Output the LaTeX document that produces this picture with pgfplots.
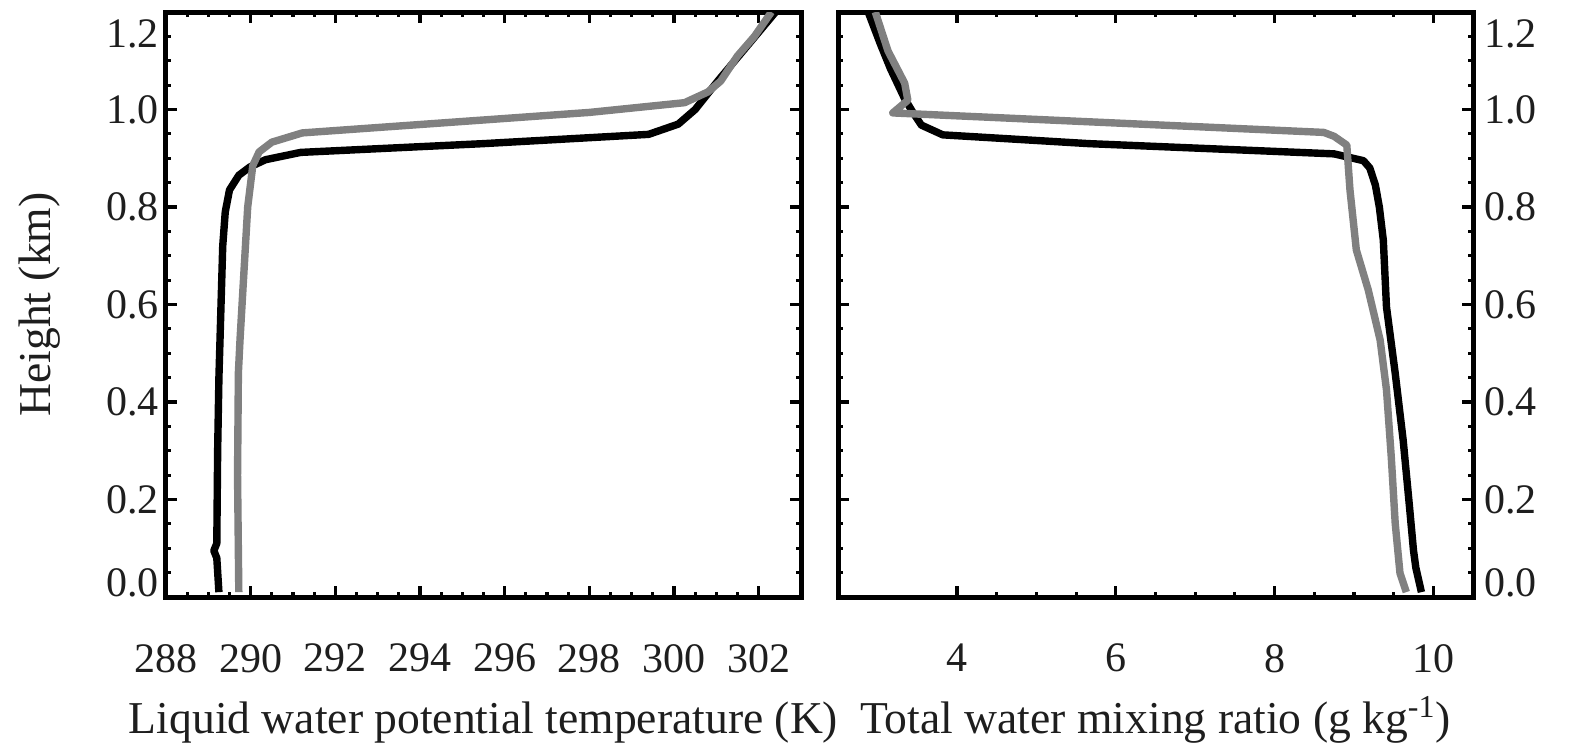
\documentclass[border=0pt]{standalone}
\usepackage{fontspec}
\setmainfont{Liberation Serif}
\usepackage{pgfplots}
\pgfplotsset{compat=1.18}
\definecolor{lgray}{RGB}{128,128,128}
\definecolor{txt}{RGB}{30,30,30}
\newcommand{\lup}[2]{\raisebox{#1}[\height][\depth]{#2}}
\pgfplotsset{
 myax/.style={
  scale only axis, width=317.5pt, height=292.5pt,
  ymin=0, ymax=1.2,
  ytick={0,0.2,0.4,0.6,0.8,1.0,1.2},
  yticklabels={\lup{7pt}{0.0},0.2,0.4,0.6,0.8,1.0,\lup{-11pt}{1.2}},
  minor x tick num=3, minor y tick num=3,
  tick align=inside,
  xtick pos=both, ytick pos=both,
  axis line style={line width=2.5pt},
  every tick/.style={black, line width=1.6pt},
  major tick length=5.5pt, minor tick length=2.7pt,
  tick label style={font=\fontsize{21pt}{25pt}\selectfont, text=txt},
  label style={font=\fontsize{22.8pt}{27pt}\selectfont, text=txt, inner sep=0pt},
  xticklabel style={yshift=-20pt},
  /pgf/number format/assume math mode=true,
  xlabel style={at={(axis description cs:0.5,-0.2325)}, anchor=base},
 },
 blk/.style={black, line width=3.7pt, line join=round, no markers},
 gry/.style={lgray, line width=3.7pt, line join=round, no markers},
}
\begin{document}
\begin{tikzpicture}
\useasboundingbox (-83pt,-74.5pt) rectangle (706pt,298.5pt);
\begin{axis}[myax, at={(0pt,0pt)}, anchor=south west,
  xmin=288, xmax=303, xtick={288,290,...,302},
  xlabel={Liquid water potential temperature (K)},
  ylabel={Height (km)},
  ylabel style={at={(axis description cs:-0.1984,0.5)}, anchor=center},
]
\addplot[blk] coordinates {
(289.25,0.01) (289.2,0.08) (289.13,0.095) (289.2,0.11) (289.22,0.3)
(289.25,0.45) (289.3,0.6) (289.34,0.72) (289.4,0.79) (289.5,0.835)
(289.72,0.865) (289.98,0.882) (290.35,0.897) (291.18,0.912) (295.5,0.93)
(299.4,0.949) (300.1,0.97) (300.5,1.0) (301.05,1.06) (302.4,1.2)
};
\addplot[gry] coordinates {
(289.72,0.01) (289.69,0.25) (289.71,0.46) (289.75,0.53) (289.84,0.665)
(289.93,0.80) (290.05,0.885) (290.2,0.913) (290.5,0.933) (291.22,0.952)
(298.0,0.994) (300.25,1.014) (300.8,1.036) (301.1,1.058) (301.5,1.11)
(301.9,1.15) (302.3,1.2)
};
\end{axis}
\begin{axis}[myax, at={(336pt,0pt)}, anchor=south west,
  xmin=2.5, xmax=10.5, xtick={4,6,8,10},
  yticklabel pos=right,
  yticklabel style={xshift=2pt},
  xlabel={Total water mixing ratio (g kg\textsuperscript{-1})},
]
\addplot[blk] coordinates {
(9.85,0.01) (9.78,0.06) (9.75,0.096) (9.70,0.185) (9.62,0.322)
(9.52,0.459) (9.41,0.595) (9.37,0.732) (9.32,0.80) (9.27,0.845)
(9.20,0.88) (9.12,0.895) (8.75,0.909) (5.66,0.930) (3.82,0.948)
(3.55,0.968) (3.44,0.995) (3.34,1.022) (3.16,1.084) (3.03,1.136) (2.88,1.2)
};
\addplot[gry] coordinates {
(9.66,0.01) (9.58,0.049) (9.52,0.151) (9.47,0.288) (9.41,0.425)
(9.33,0.527) (9.18,0.63) (9.03,0.712) (8.95,0.835) (8.91,0.927)
(8.75,0.945) (8.62,0.953) (3.19,0.993) (3.38,1.019) (3.34,1.054)
(3.13,1.12) (2.97,1.2)
};
\end{axis}
\end{tikzpicture}
\end{document}
